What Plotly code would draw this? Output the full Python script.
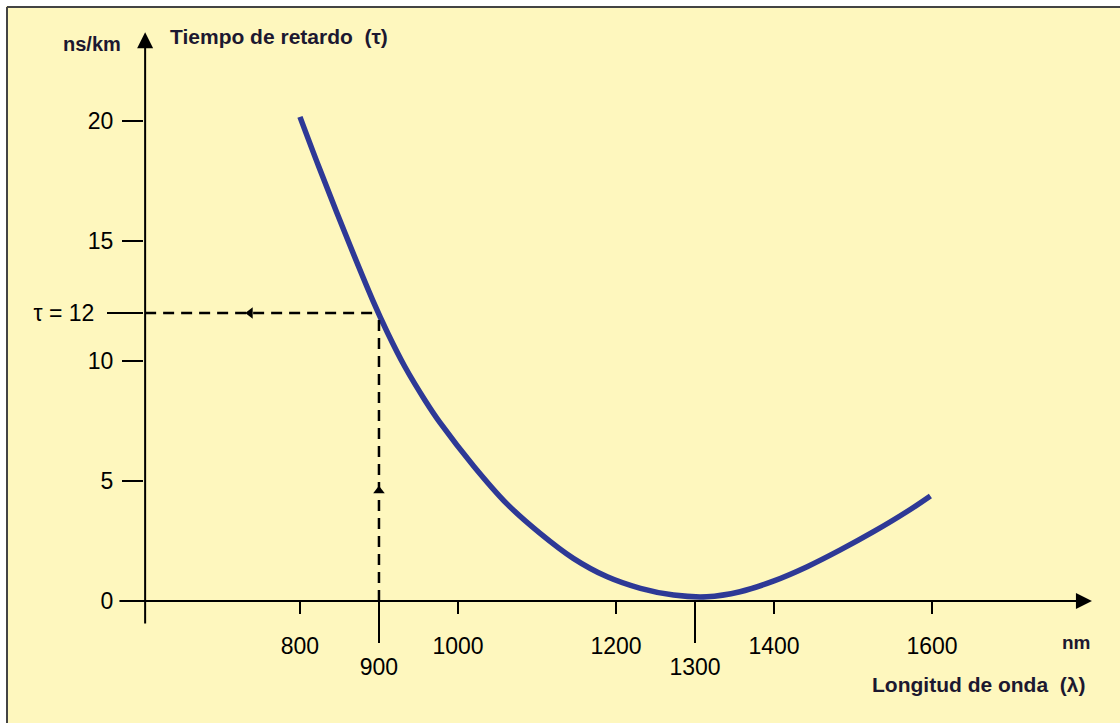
import plotly.graph_objects as go

# ---- data ----
wavelength_nm = [800, 824, 857, 892, 911, 933, 958, 978, 1020, 1062, 1104, 1146,
                 1189, 1231, 1273, 1315, 1357, 1400, 1442, 1484, 1526, 1568, 1598]
delay_ns_km = [20.17, 18.08, 15.33, 12.54, 11.17, 9.75, 8.38, 7.40, 5.62, 4.05,
               2.82, 1.78, 1.01, 0.53, 0.25, 0.18, 0.39, 0.84, 1.43, 2.13, 2.89,
               3.72, 4.38]

x_ticks_main = [800, 1000, 1200, 1400, 1600]
x_ticks_low = [900, 1300]
y_ticks = [0, 5, 10, 15, 20]
y_tick_marked = [12]
y_tick_marked_text = ["τ = 12"]

lambda_sel = 900
tau_sel = 12

# ---- layout constants ----
W, H = 1120, 723
X_RANGE = [420.3, 1838.0]
Y_RANGE = [-5.08, 25.04]
X_AXIS_FROM, X_AXIS_TO = 569.6, 1802.5
Y_AXIS_AT = 604.0
Y_AXIS_FROM, Y_AXIS_TO = -1.0, 23.7

BG = "#FEF7BE"
CURVE = "#2E3996"
TXT = "#1c1830"
FONT = "Liberation Sans, Arial, sans-serif"

fig = go.Figure()

fig.add_trace(go.Scatter(
    x=wavelength_nm, y=delay_ns_km, mode="lines",
    line=dict(color=CURVE, width=5.5, shape="spline", smoothing=1.0),
    hoverinfo="skip", showlegend=False, xaxis="x", yaxis="y"))

# arrowheads on the dashed guide lines
fig.add_trace(go.Scatter(
    x=[737, lambda_sel], y=[tau_sel, 4.6], mode="markers",
    marker=dict(symbol=["triangle-left", "triangle-up"], size=10, color="black"),
    hoverinfo="skip", showlegend=False, xaxis="x2", yaxis="y2"))

shapes = [
    # dashed guide lines
    dict(type="line", xref="x", yref="y", x0=Y_AXIS_AT, x1=lambda_sel,
         y0=tau_sel, y1=tau_sel, line=dict(color="black", width=2.5, dash="11px,7px")),
    dict(type="line", xref="x", yref="y", x0=lambda_sel, x1=lambda_sel,
         y0=0, y1=tau_sel, line=dict(color="black", width=2.5, dash="11px,7px")),
    # white margin + frame
    dict(type="rect", xref="paper", yref="paper", x0=0, x1=1, y0=1 - 6 / H, y1=1,
         fillcolor="white", line=dict(width=0), layer="above"),
    dict(type="rect", xref="paper", yref="paper", x0=0, x1=6 / W, y0=0, y1=1,
         fillcolor="white", line=dict(width=0), layer="above"),
    dict(type="line", xref="paper", yref="paper", x0=7 / W, x1=7 / W, y0=0, y1=1 - 7 / H,
         line=dict(color="#444444", width=2), layer="above"),
    dict(type="line", xref="paper", yref="paper", x0=7 / W, x1=1, y0=1 - 7 / H, y1=1 - 7 / H,
         line=dict(color="#444444", width=2), layer="above"),
]

annotations = [
    # axes with arrowheads
    dict(x=Y_AXIS_AT, y=Y_AXIS_TO, ax=Y_AXIS_AT, ay=Y_AXIS_FROM, xref="x", yref="y",
         axref="x", ayref="y", text="", showarrow=True, arrowhead=2, arrowsize=1.6,
         arrowwidth=2, arrowcolor="black", standoff=0, startstandoff=0),
    dict(x=X_AXIS_TO, y=0, ax=X_AXIS_FROM, ay=0, xref="x", yref="y",
         axref="x", ayref="y", text="", showarrow=True, arrowhead=2, arrowsize=1.6,
         arrowwidth=2, arrowcolor="black", standoff=0, startstandoff=0),
    # texts
    dict(text="Tiempo de retardo  (τ)", xref="paper", yref="paper", x=168 / W, y=1 - 36 / H,
         xanchor="left", yanchor="middle", showarrow=False,
         font=dict(family=FONT, size=21, color=TXT, weight="bold")),
    dict(text="ns/km", xref="paper", yref="paper", x=92 / W, y=1 - 44 / H,
         xanchor="center", yanchor="middle", showarrow=False,
         font=dict(family=FONT, size=20, color=TXT, weight="bold")),
    dict(text="nm", xref="paper", yref="paper", x=1076 / W, y=1 - 642 / H,
         xanchor="center", yanchor="middle", showarrow=False,
         font=dict(family=FONT, size=19, color=TXT, weight="bold")),
    dict(text="Longitud de onda  (λ)", xref="paper", yref="paper", x=870 / W, y=1 - 684 / H,
         xanchor="left", yanchor="middle", showarrow=False,
         font=dict(family=FONT, size=21, color=TXT, weight="bold")),
]

tickfont = dict(family=FONT, size=23, color="black")
x_pos = (H - 601) / H
y_pos = 143 / W

fig.update_layout(
    width=W, height=H,
    margin=dict(l=0, r=0, t=0, b=0, pad=0),
    paper_bgcolor=BG, plot_bgcolor="rgba(0,0,0,0)",
    showlegend=False,
    shapes=shapes, annotations=annotations,
    xaxis=dict(range=X_RANGE, domain=[0, 1], anchor="free", position=x_pos,
               showgrid=False, zeroline=False, showline=False, fixedrange=True,
               ticks="outside", ticklen=12, tickwidth=2, tickcolor="black",
               tickmode="array", tickvals=x_ticks_main, tickfont=tickfont,
               ticklabelstandoff=12),
    xaxis2=dict(range=X_RANGE, domain=[0, 1], anchor="free", position=x_pos,
                overlaying="x", side="bottom",
                showgrid=False, zeroline=False, showline=False, fixedrange=True,
                ticks="outside", ticklen=41, tickwidth=2, tickcolor="black",
                tickmode="array", tickvals=x_ticks_low, tickfont=tickfont,
                ticklabelstandoff=4),
    yaxis=dict(range=Y_RANGE, domain=[0, 1], anchor="free", position=y_pos,
               showgrid=False, zeroline=False, showline=False, fixedrange=True,
               ticks="outside", ticklen=21, tickwidth=2, tickcolor="black",
               tickmode="array", tickvals=y_ticks, tickfont=tickfont,
               ticklabelstandoff=4),
    yaxis2=dict(range=Y_RANGE, domain=[0, 1], anchor="free", position=y_pos,
                overlaying="y", side="left",
                showgrid=False, zeroline=False, showline=False, fixedrange=True,
                ticks="outside", ticklen=36, tickwidth=2, tickcolor="black",
                tickmode="array", tickvals=y_tick_marked, ticktext=y_tick_marked_text,
                tickfont=tickfont, ticklabelstandoff=8),
)

fig.write_html(
    "out.html",
    config={"displayModeBar": False},
    post_script="document.body.style.margin='0';document.body.style.overflow='hidden';",
)
